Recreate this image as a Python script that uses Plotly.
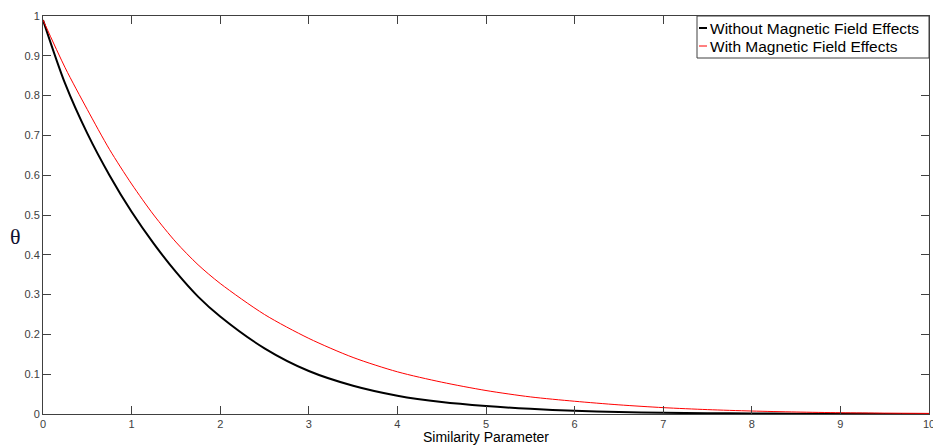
import plotly.graph_objects as go

# Similarity parameter (x) and temperature profile theta
x_vals = [0, 0.25, 0.5, 0.75, 1.0, 1.25, 1.5, 1.75, 2.0, 2.5, 3.0, 3.5, 4.0, 4.5,
          5.0, 5.5, 6.0, 6.5, 7.0, 7.5, 8.0, 8.5, 9.0, 9.5, 10.0]
theta_without = [0.99, 0.83, 0.705, 0.60, 0.508, 0.428, 0.357, 0.295, 0.245, 0.165,
                 0.108, 0.071, 0.046, 0.030, 0.020, 0.013, 0.008, 0.005, 0.003,
                 0.002, 0.0012, 0.0008, 0.0005, 0.0003, 0.0002]
theta_with = [0.99, 0.87, 0.765, 0.665, 0.578, 0.50, 0.432, 0.375, 0.328, 0.25,
              0.19, 0.142, 0.106, 0.080, 0.059, 0.043, 0.032, 0.023, 0.016,
              0.011, 0.0075, 0.005, 0.0032, 0.0022, 0.0015]

series_names = ["Without Magnetic Field Effects", "With Magnetic Field Effects"]
series_colors = ["black", "red"]
series_widths = [2, 1]
x_ticks = list(range(0, 11))
y_ticks = [round(i * 0.1, 1) for i in range(0, 11)]
y_tick_labels = ["0", "0.1", "0.2", "0.3", "0.4", "0.5", "0.6", "0.7", "0.8", "0.9", "1"]

fig = go.Figure()
for name, ys, col, w in zip(series_names, [theta_without, theta_with], series_colors, series_widths):
    fig.add_trace(go.Scatter(x=x_vals, y=ys, mode="lines", name=name,
                             line=dict(color=col, width=w, shape="spline", smoothing=0.8)))

axis_common = dict(showgrid=False, zeroline=False, showline=True, linecolor="#404040",
                   linewidth=1, mirror="ticks", ticks="inside", ticklen=8,
                   tickcolor="#404040", ticklabeloverflow="allow", automargin=False,
                   tickfont=dict(family="Liberation Sans", size=11, color="#404040"))

fig.update_xaxes(range=[0, 10], tickvals=x_ticks, ticktext=[str(t) for t in x_ticks], **axis_common)
fig.update_yaxes(range=[0, 1], tickvals=y_ticks, ticktext=y_tick_labels, **axis_common)

# Legend drawn MATLAB-style (short line samples, tight box)
L, B, H = 43.0, 414.0, 398.0
W = 886.0
def px_x(p):
    return (p - L) / W
def px_y(p):
    return (B - p) / H

shapes = [dict(type="rect", xref="paper", yref="paper", x0=px_x(697), x1=1.0,
               y0=px_y(58), y1=1.0, line=dict(color="#404040", width=1), fillcolor="white", layer="above")]
annotations = []
for i, (name, col, w) in enumerate(zip(series_names, series_colors, series_widths)):
    yy = px_y(28 + 18 * i)
    shapes.append(dict(type="line", xref="paper", yref="paper", x0=px_x(699), x1=px_x(707),
                       y0=yy, y1=yy, line=dict(color=col, width=w), layer="above"))
    annotations.append(dict(text=name, xref="paper", yref="paper", x=px_x(708), y=yy,
                            xanchor="left", yanchor="middle", showarrow=False,
                            font=dict(family="Liberation Sans", size=15.5, color="black")))

annotations += [
    dict(text="Similarity Parameter", xref="paper", yref="paper", x=0.5, y=-0.058,
         xanchor="center", yanchor="middle", showarrow=False,
         font=dict(family="Liberation Sans", size=14, color="black")),
    dict(text="θ", xref="paper", yref="paper", x=-0.0316, y=0.445,
         xanchor="center", yanchor="middle", showarrow=False,
         font=dict(family="Liberation Serif", size=22, color="#101030")),
]

fig.update_layout(
    width=933, height=446,
    margin=dict(l=43, r=4, t=16, b=32, autoexpand=False),
    plot_bgcolor="white", paper_bgcolor="white",
    showlegend=False,
    shapes=shapes,
    annotations=annotations,
)

fig.write_html("out.html", config={"displayModeBar": False},
               post_script="document.body.style.margin='0';document.body.style.padding='0';")
